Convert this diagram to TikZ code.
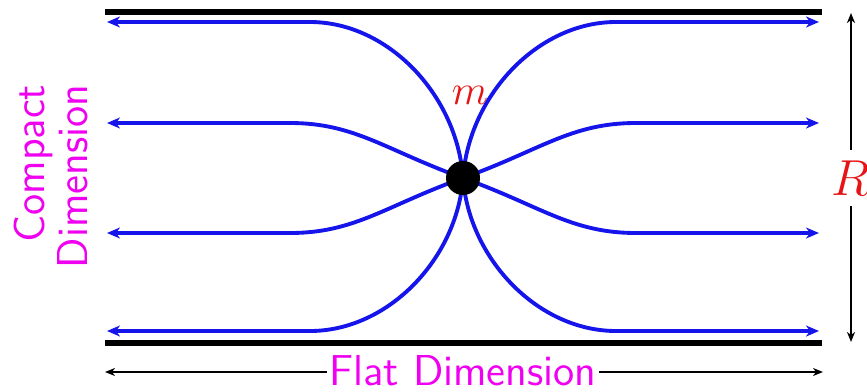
\documentclass[tikz,border=0pt]{standalone}
\usetikzlibrary{arrows.meta}
\begin{document}
\begin{tikzpicture}[x=0.01cm,y=-0.01cm,
  field/.style={draw={rgb,255:red,20;green,20;blue,235}, line width=1.1pt, -{Stealth[length=1.3mm,width=1.1mm,inset=0.4mm]}},
  wall/.style={line width=1.5pt},
  dimarrow/.style={line width=0.45pt, -{Stealth[length=1mm,width=0.8mm,inset=0.3mm]}},
  magtext/.style={text={rgb,255:red,240;green,0;blue,240}, font=\sffamily\fontsize{12.3}{12.2}\selectfont},
  redtext/.style={text={rgb,255:red,230;green,20;blue,20}}]
\useasboundingbox (0,0) rectangle (867,391);
% walls
\coordinate (wtl) at (105,12); \coordinate (wtr) at (822,12);
\coordinate (wbl) at (105,343); \coordinate (wbr) at (822,343);
\draw[wall] (wtl) -- (wtr);
\draw[wall] (wbl) -- (wbr);
% field line ends
\coordinate (c) at (463,178);
\coordinate (l1) at (107,22);  \coordinate (r1) at (819,22);
\coordinate (l2) at (107,123); \coordinate (r2) at (819,123);
\coordinate (l3) at (107,233); \coordinate (r3) at (819,233);
\coordinate (l4) at (107,331); \coordinate (r4) at (819,331);
% left field lines
\draw[field] (c) .. controls (457,95) and (388,22) .. (310,22) -- (l1);
\draw[field] (c) .. controls (385,150) and (355,123) .. (290,123) -- (l2);
\draw[field] (c) .. controls (385,206) and (355,233) .. (290,233) -- (l3);
\draw[field] (c) .. controls (457,259) and (388,331) .. (310,331) -- (l4);
% right field lines
\draw[field] (c) .. controls (469,95) and (538,22) .. (616,22) -- (r1);
\draw[field] (c) .. controls (541,150) and (571,123) .. (636,123) -- (r2);
\draw[field] (c) .. controls (541,206) and (571,233) .. (636,233) -- (r3);
\draw[field] (c) .. controls (469,259) and (538,331) .. (616,331) -- (r4);
% mass
\node[circle, fill=black, minimum size=0.34cm, inner sep=0pt] (mass) at (c) {};
\node[redtext, font=\fontsize{12.5}{14}\selectfont] (mlabel) at (470,95) {$m$};
% R dimension
\node[redtext, font=\fontsize{13.5}{16}\selectfont, inner sep=1mm] (R) at (851,178) {$R$};
\coordinate (rtop) at (849,13);
\coordinate (rbot) at (849,342);
\draw[dimarrow] (R) -- (R|-rtop);
\draw[dimarrow] (R) -- (R|-rbot);
% flat dimension
\node[magtext, inner sep=0.6pt] (flat) at (463,371) {Flat Dimension};
\coordinate (fl) at (105,372);
\coordinate (fr) at (823,372);
\draw[dimarrow] (flat.west|-fl) -- (fl);
\draw[dimarrow] (flat.east|-fr) -- (fr);
% compact dimension
\node[magtext, rotate=90, anchor=east, align=right, inner sep=0pt] (compact) at (51,84) {Compact\\Dimension};
\end{tikzpicture}
\end{document}
